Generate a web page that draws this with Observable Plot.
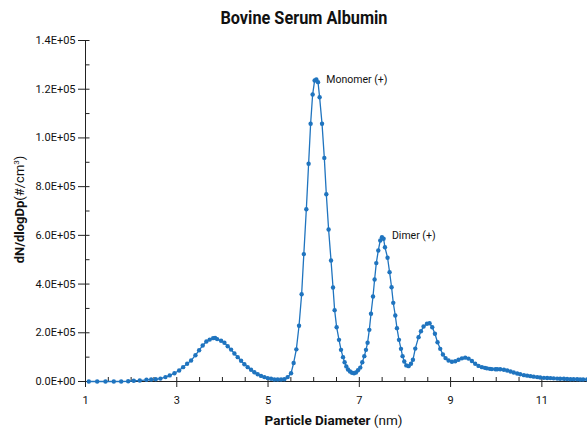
<!DOCTYPE html>
<html><head><meta charset="utf-8">
<script src="https://cdn.jsdelivr.net/npm/d3@7"></script>
<script src="https://cdn.jsdelivr.net/npm/@observablehq/plot@0.6"></script>
<style>
body{margin:0;background:#fff;font-family:Roboto,sans-serif;}
#wrap{width:587px;height:428px;position:relative;overflow:hidden;background:#fff}
#title{position:absolute;top:0;left:10px;width:587px;height:32px;text-align:center}
#title span{display:inline-block;font-weight:bold;font-size:18.5px;line-height:32px;transform:scaleX(0.88);color:#111;margin-top:2px}
#chart{position:absolute;top:32px;left:0}
</style></head>
<body><div id="wrap"><div id="title"><span>Bovine Serum Albumin</span></div><div id="chart"></div></div>
<script>
// Particle diameter (nm)
const diameters = [
  1.072, 1.256, 1.438, 1.620, 1.782, 1.935, 2.058, 2.189, 2.336, 2.439,
  2.539, 2.642, 2.752, 2.846, 2.949, 3.052, 3.139, 3.227, 3.314, 3.409,
  3.490, 3.568, 3.649, 3.722, 3.796, 3.840, 3.884, 3.971, 4.044, 4.116,
  4.190, 4.263, 4.335, 4.409, 4.482, 4.554, 4.628, 4.700, 4.773, 4.847,
  4.919, 4.992, 5.066, 5.138, 5.211, 5.285, 5.357, 5.430, 5.504, 5.561,
  5.620, 5.679, 5.736, 5.784, 5.839, 5.889, 5.933, 5.977, 6.021, 6.058,
  6.095, 6.130, 6.183, 6.233, 6.277, 6.327, 6.380, 6.424, 6.459, 6.503,
  6.555, 6.599, 6.643, 6.678, 6.715, 6.752, 6.796, 6.840, 6.884, 6.927,
  6.971, 7.021, 7.065, 7.109, 7.146, 7.181, 7.219, 7.256, 7.300, 7.335,
  7.372, 7.416, 7.459, 7.496, 7.532, 7.562, 7.619, 7.663, 7.707, 7.744,
  7.788, 7.825, 7.869, 7.913, 7.948, 7.985, 8.029, 8.079, 8.132, 8.175,
  8.226, 8.298, 8.351, 8.408, 8.482, 8.539, 8.598, 8.657, 8.714, 8.773,
  8.832, 8.889, 8.955, 9.029, 9.102, 9.174, 9.248, 9.321, 9.393, 9.467,
  9.539, 9.612, 9.686, 9.752, 9.796, 9.862, 9.905, 9.983, 10.021, 10.087,
  10.168, 10.240, 10.313, 10.383, 10.459, 10.525, 10.606, 10.678, 10.751, 10.821,
  10.897, 10.963, 11.044, 11.116, 11.188, 11.258, 11.335, 11.401, 11.482, 11.554,
  11.627, 11.696, 11.773, 11.839, 11.904, 11.992
];
// dN/dlogDp (#/cm3)
const concentrations = [
  0, 0, 0, 0, 0, 100, 300, 400, 700, 800,
  900, 1200, 1800, 2500, 3400, 4500, 5900, 7300, 8600, 10800,
  12800, 14800, 16400, 17200, 17800, 17900, 17400, 16700, 15900, 14500,
  13100, 11500, 10000, 8500, 7100, 5900, 4800, 3800, 3000, 2300,
  1800, 1400, 1100, 800, 800, 800, 900, 1800, 3400, 7600,
  13200, 22900, 35800, 52300, 70700, 89400, 105800, 117800, 123600, 124000,
  122900, 116700, 105800, 91800, 76900, 62400, 49700, 38600, 29300, 22300,
  17100, 13000, 10000, 7900, 6200, 4900, 4100, 3600, 3400, 3700,
  4600, 5700, 7900, 10400, 13000, 15900, 21200, 27800, 34900, 41900,
  48600, 53800, 57900, 59200, 58600, 55100, 50800, 44900, 38700, 32300,
  27100, 21900, 17100, 13400, 10400, 8200, 6600, 6300, 7300, 8900,
  13500, 18200, 20600, 22600, 23700, 23900, 22300, 19600, 16100, 13400,
  11100, 9600, 8600, 8100, 8300, 8900, 9500, 9800, 9400, 8400,
  7300, 6400, 5900, 5600, 5400, 5200, 5100, 5000, 5000, 5000,
  4800, 4500, 4100, 3700, 3300, 2950, 2600, 2400, 2200, 2000,
  1800, 1650, 1500, 1450, 1400, 1300, 1200, 1150, 1100, 1000,
  900, 900, 900, 850, 800, 800
];
const xMajorTicks = [1, 3, 5, 7, 9, 11];
const xTickLabels = ["1", "3", "5", "7", "9", "11"];
const xMinorTicks = [1, 1.5, 2, 2.5, 3, 3.5, 4, 4.5, 5, 5.5, 6, 6.5, 7, 7.5, 8, 8.5, 9, 9.5, 10, 10.5, 11, 11.5, 12];
const yMajorTicks = [0, 20000, 40000, 60000, 80000, 100000, 120000, 140000];
const yTickLabels = ["0.0E+00", "2.0E+05", "4.0E+05", "6.0E+05", "8.0E+05", "1.0E+05", "1.2E+05", "1.4E+05"];
const yMinorTicks = [0, 10000, 20000, 30000, 40000, 50000, 60000, 70000, 80000, 90000, 100000, 110000, 120000, 130000, 140000];
const annotationLabels = ["Monomer (+)", "Dimer (+)"];
const annotationX = [6.058, 7.496];
const annotationY = [124000, 60000];

const data = diameters.map((d, i) => ({d, v: concentrations[i]}));
const annotations = annotationLabels.map((t, i) => ({t, x: annotationX[i], y: annotationY[i]}));
const yLabel = new Map(yMajorTicks.map((t, i) => [t, yTickLabels[i]]));
const xLabel = new Map(xMajorTicks.map((t, i) => [t, xTickLabels[i]]));

const W = 587, H = 396, mL = 85, mR = 0, mT = 8, mB = 47;
const pw = W - mL - mR, ph = H - mT - mB;
const lineColor = "#1f74bf";
const axisColor = "#222";

const chart = Plot.plot({
  width: W, height: H,
  marginLeft: mL, marginRight: mR, marginTop: mT, marginBottom: mB,
  style: {fontFamily: "Roboto, sans-serif", fontSize: "11px", color: "#111", background: "white", overflow: "visible"},
  x: {domain: [1, 12]},
  y: {domain: [0, 140000]},
  marks: [
    Plot.tickY(yMinorTicks, {y: d => d, insetRight: pw - 4.5, stroke: axisColor}),
    Plot.tickX(xMinorTicks, {x: d => d, insetTop: ph - 4, stroke: axisColor}),
    Plot.axisY({ticks: yMajorTicks, tickSize: 7, tickPadding: 3, tickFormat: d => yLabel.get(d), label: null, stroke: axisColor, fill: "#111"}),
    Plot.axisX({ticks: xMajorTicks, tickSize: 6, tickPadding: 8.5, tickFormat: d => xLabel.get(d), label: null, stroke: axisColor, fill: "#111"}),
    Plot.ruleX([1], {stroke: axisColor}),
    Plot.ruleY([0], {stroke: axisColor}),
    Plot.line(data, {x: "d", y: "v", stroke: lineColor, strokeWidth: 1.3}),
    Plot.dot(data, {x: "d", y: "v", r: 2.2, fill: lineColor}),
    Plot.text(annotations, {x: "x", y: "y", text: "t", dx: 10, textAnchor: "start", fontSize: 10.5, fill: "#111"})
  ]
});
document.getElementById("chart").appendChild(chart);

const svg = d3.select(chart);
const xl = svg.append("text").attr("x", 333.5).attr("y", 393).attr("text-anchor", "middle").attr("font-size", 13.5).attr("fill", "#111");
xl.append("tspan").attr("font-weight", "bold").text("Particle Diameter");
xl.append("tspan").text(" (nm)");
const yl = svg.append("text").attr("transform", "translate(23.5,177.5) rotate(-90)").attr("text-anchor", "middle").attr("font-size", 13).attr("fill", "#111");
yl.append("tspan").attr("font-weight", "bold").text("dN/dlogDp");
yl.append("tspan").text("(#/cm");
yl.append("tspan").attr("font-size", 8).attr("dy", -5).text("3");
yl.append("tspan").attr("dy", 5).text(")");
</script>
</body></html>
